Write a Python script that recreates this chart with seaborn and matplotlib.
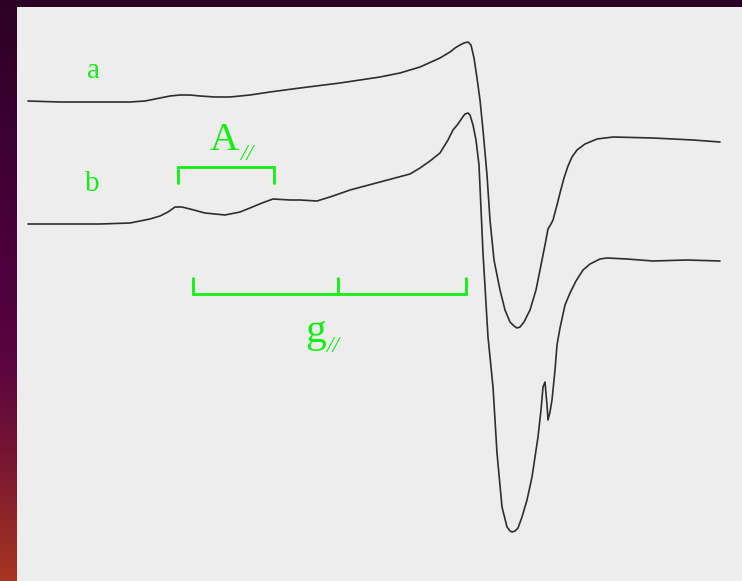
import numpy as np
import pandas as pd
import matplotlib
matplotlib.use("Agg")
import matplotlib.pyplot as plt
import seaborn as sns
from matplotlib.colors import LinearSegmentedColormap

# ---- traced EPR spectra (field position, signal; pixel-like units) ----
field_a = [28, 60, 100, 130, 145, 160, 170, 180, 190, 200, 215, 230, 250, 270, 300,
           340, 380, 400, 420, 440, 450, 455, 460, 464, 468, 471, 474, 477, 480, 483,
           487, 490, 494, 500, 505, 510, 514, 517, 520, 524, 530, 536, 540, 545, 548,
           551, 553, 557, 560, 564, 568, 572, 577, 585, 597, 613, 653, 693, 720]
signal_a = [101, 102, 102, 102, 101, 98, 96, 95, 95, 96, 97, 97, 95, 92, 88,
            83, 77, 73, 67, 58, 52, 48, 45, 43, 42, 45, 58, 78, 100, 130,
            175, 220, 260, 290, 310, 322, 326, 328, 327, 322, 310, 290, 270, 245, 229,
            224, 220, 205, 193, 178, 166, 157, 150, 144, 139, 137, 138, 140, 142]

field_b = [28, 60, 100, 130, 150, 160, 168, 175, 182, 190, 205, 225, 240, 250, 262,
           273, 290, 300, 317, 333, 350, 380, 410, 420, 430, 440, 448, 453, 458, 462,
           465, 468, 470, 473, 476, 479, 483, 488, 493, 497, 502, 507, 510, 512, 515,
           518, 522, 527, 532, 538, 541, 543, 545, 547, 548, 550, 552, 555, 557, 560,
           565, 570, 576, 583, 590, 600, 607, 627, 653, 687, 720]
signal_b = [224, 224, 224, 223, 219, 216, 212, 207, 207, 209, 213, 215, 212, 208, 203,
            199, 200, 200, 201, 196, 190, 182, 174, 168, 161, 153, 140, 130, 124, 118,
            114, 113, 115, 125, 140, 165, 253, 337, 387, 453, 507, 527, 531, 532, 531,
            528, 517, 500, 477, 437, 410, 387, 382, 405, 420, 412, 400, 370, 345, 328,
            305, 293, 281, 270, 264, 259, 258, 259, 261, 260, 261]

labels = ["a", "b"]

df = pd.concat([
    pd.DataFrame({"field": field_a, "signal": signal_a, "sample": "a"}),
    pd.DataFrame({"field": field_b, "signal": signal_b, "sample": "b"}),
])

sns.set_style("white")
W, H = 742, 581
fig = plt.figure(figsize=(W / 100, H / 100), dpi=100)

# background gradient
bg = fig.add_axes([0, 0, 1, 1])
cmap = LinearSegmentedColormap.from_list("bg", [
    (0.0, "#2c0026"), (0.5, "#50003f"), (0.65, "#5e063e"),
    (0.8, "#7a1830"), (1.0, "#a83522")])
grad = np.linspace(0, 1, 256).reshape(-1, 1)
bg.imshow(grad, aspect="auto", cmap=cmap, extent=[0, 1, 1, 0])
bg.set_axis_off()

# panel
ax = fig.add_axes([17 / W, 0, (W - 17) / W, (H - 7) / H])
ax.add_patch(plt.Rectangle((17, 7), W - 17, H - 7, color="#ededed", zorder=-5))
sns.lineplot(data=df, x="field", y="signal", units="sample", estimator=None,
             color="#2e2e2e", lw=1.2, ax=ax, sort=False)
ax.set_xlim(17, W)
ax.set_ylim(H, 7)
ax.axis("off")

green = "#12f012"
serif = ["Liberation Serif", "DejaVu Serif"]
ax.text(87, 78, labels[0], color=green, fontsize=21, family=serif, va="baseline")
ax.text(85, 191, labels[1], color=green, fontsize=21, family=serif, va="baseline")

# A// bracket
ax.plot([178, 178, 274, 274], [183, 167, 167, 183], color=green, lw=2.0,
        solid_joinstyle="miter")
ax.text(210, 150, "A", color=green, fontsize=29, family=serif, va="baseline")
ax.text(240, 160, "//", color=green, fontsize=17, family=serif, style="italic",
        va="baseline")

# g// bracket
ax.plot([193, 193, 466, 466], [278, 294, 294, 278], color=green, lw=2.0,
        solid_joinstyle="miter")
ax.plot([338, 338], [278, 294], color=green, lw=2.0)
ax.text(305, 342, "g", color=green, fontsize=30, family=serif, va="baseline")
ax.text(326, 352, "//", color=green, fontsize=17, family=serif, style="italic",
        va="baseline")

fig.savefig("out.png", dpi=100)
